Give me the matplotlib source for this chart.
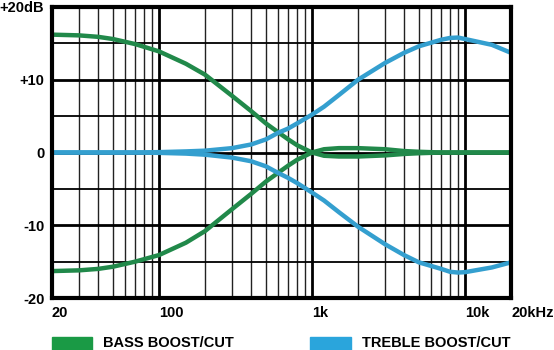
import numpy as np
import matplotlib.pyplot as plt
from matplotlib.patches import Rectangle

plt.rcParams['font.family'] = ['Liberation Sans', 'DejaVu Sans']

# frequency points (Hz) shared by all curves
freqs = [20, 30, 40, 50, 70, 100, 150, 200, 300, 400, 500, 600, 700, 800,
         1000, 1200, 1500, 2000, 3000, 4000, 5000, 7000, 8000, 9000, 10000,
         15000, 20000]

bass_boost = [16.2, 16.1, 15.9, 15.6, 14.9, 13.9, 12.2, 10.7, 7.8, 5.7, 4.0,
              2.8, 1.8, 1.0, 0.0, -0.45, -0.55, -0.55, -0.4, -0.2, -0.1, 0.0,
              0.0, 0.0, 0.0, 0.0, 0.0]
bass_cut = [-16.3, -16.2, -16.0, -15.7, -15.0, -14.1, -12.4, -10.8, -7.8, -5.7,
            -4.0, -2.8, -1.8, -1.0, 0.0, 0.45, 0.6, 0.6, 0.45, 0.2, 0.1, 0.0,
            0.0, 0.0, 0.0, 0.0, 0.0]
treble_boost = [0.0, 0.0, 0.0, 0.0, 0.0, 0.05, 0.15, 0.25, 0.6, 1.1, 1.8,
                2.7, 3.3, 4.0, 5.2, 6.3, 7.9, 10.0, 12.3, 13.7, 14.6, 15.5,
                15.75, 15.8, 15.6, 14.8, 13.7]
treble_cut = [0.0, 0.0, 0.0, 0.0, 0.0, -0.05, -0.15, -0.3, -0.7, -1.2, -1.9,
              -2.8, -3.5, -4.2, -5.5, -6.6, -8.2, -10.2, -12.6, -14.1, -15.1,
              -16.0, -16.4, -16.5, -16.45, -15.8, -15.1]

x_ticks = [20, 100, 1000, 10000, 20000]
x_labels = ["20", "100", "1k", "10k", "20kHz"]
y_ticks = [20, 10, 0, -10, -20]
y_labels = ["+20dB", "+10", "0", "-10", "-20"]

GREEN = "#21894a"
BLUE = "#349fcf"

fig = plt.figure(figsize=(5.54, 3.5), dpi=100)
ax = fig.add_axes([52 / 554, 52 / 350, 459 / 554, 291 / 350])
ax.set_xscale("log")
ax.set_xlim(20, 20000)
ax.set_ylim(-20, 20)

# grid
for dec in [10, 100, 1000, 10000]:
    for m in range(1, 10):
        f = dec * m
        if f <= 20 or f >= 20000:
            continue
        if m == 1:
            ax.axvline(f, color="black", lw=2.0, zorder=1)
        else:
            ax.axvline(f, color="#222222", lw=1.0, zorder=1)
for v in range(-15, 20, 5):
    ax.axhline(v, color="black", lw=2.0 if v % 10 == 0 else 1.3, zorder=1)

ax.plot(freqs, bass_boost, color=GREEN, lw=3.2, zorder=3)
ax.plot(freqs, bass_cut, color=GREEN, lw=3.2, zorder=3)
ax.plot(freqs, treble_boost, color=BLUE, lw=3.2, zorder=4)
ax.plot(freqs, treble_cut, color=BLUE, lw=3.2, zorder=4)

for s in ax.spines.values():
    s.set_linewidth(3)
    s.set_zorder(5)

ax.set_xticks(x_ticks)
ax.set_xticklabels(x_labels, ha="left", fontsize=10.5, fontweight="bold")
ax.xaxis.set_minor_locator(plt.NullLocator())
ax.set_yticks(y_ticks)
ax.set_yticklabels(y_labels, fontsize=10.5, fontweight="bold")
ax.tick_params(length=0)
ax.tick_params(axis="x", pad=5.5)
ax.tick_params(axis="y", pad=5.5)

# legend at the bottom
fig.add_artist(Rectangle((52 / 554, 0), 40 / 554, 13 / 350,
                         transform=fig.transFigure, color="#1a9a45"))
fig.text(103 / 554, 7 / 350, "BASS BOOST/CUT", fontsize=10.5,
         fontweight="bold", va="center", ha="left")
fig.add_artist(Rectangle((310 / 554, 0), 41 / 554, 13 / 350,
                         transform=fig.transFigure, color="#2aa5dc"))
fig.text(362 / 554, 7 / 350, "TREBLE BOOST/CUT", fontsize=10.5,
         fontweight="bold", va="center", ha="left")

fig.savefig("out.png", dpi=100)
